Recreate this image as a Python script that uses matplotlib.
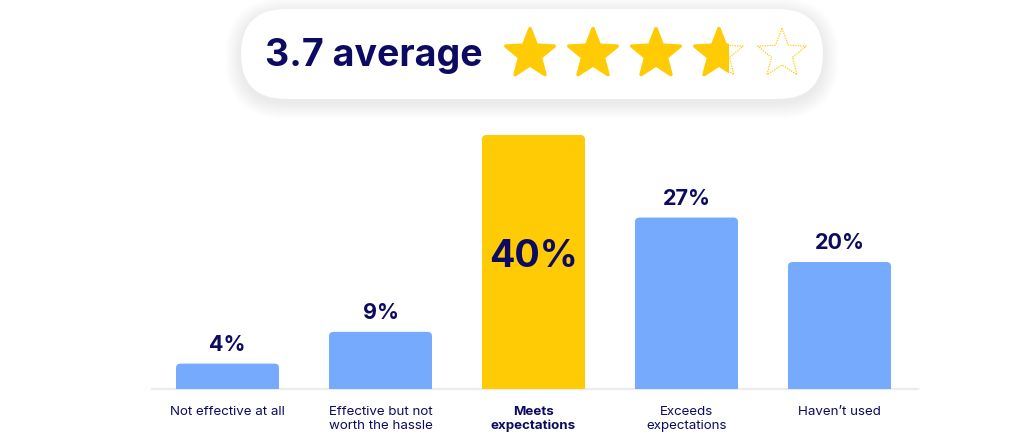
import numpy as np
import matplotlib
matplotlib.use("Agg")
import matplotlib.pyplot as plt
from matplotlib.patches import FancyBboxPatch, Polygon, Rectangle

# ---- data ----
categories = ["Not effective at all", "Effective but not\nworth the hassle",
              "Meets\nexpectations", "Exceeds\nexpectations", "Haven\u2019t used"]
values = [4, 9, 40, 27, 20]
highlight = 2
average_rating = 3.7
max_stars = 5

NAVY = "#0c0b61"
BLUE = "#75aafd"
YELLOW = "#ffcb05"
FONT = ["Inter", "DejaVu Sans"]

plt.rcParams["font.family"] = FONT

W, H = 1024, 448
fig = plt.figure(figsize=(W / 100, H / 100), dpi=100)
fig.patch.set_facecolor("white")

# ---- bar chart ----
px_per_pct = 6.35
base_px = 389          # baseline, px from top
step_px = 153
first_center_px = 227.5
left_px, right_px = 152, 918
top_px = 110

xmin = (left_px - first_center_px) / step_px
xmax = (right_px - first_center_px) / step_px
ymax = (base_px - top_px) / px_per_pct

ax = fig.add_axes([left_px / W, (H - base_px) / H,
                   (right_px - left_px) / W, (base_px - top_px) / H])
ax.set_xlim(xmin, xmax)
ax.set_ylim(0, ymax)
ax.axis("off")

bar_w = 103 / step_px
r_x = 4.5 / step_px
aspect = (1 / px_per_pct) / (1 / step_px)
for i, v in enumerate(values):
    color = YELLOW if i == highlight else BLUE
    patch = FancyBboxPatch((i - bar_w / 2, -2), bar_w, v + 2,
                           boxstyle=f"round,pad=0,rounding_size={r_x}",
                           mutation_aspect=aspect, facecolor=color,
                           edgecolor="none", clip_on=True)
    ax.add_patch(patch)
    if i == highlight:
        ax.text(i, v * 0.52, f"{v}%", ha="center", va="center",
                fontsize=27, fontweight="bold", color=NAVY)
    else:
        ax.text(i, v + 1.4, f"{v}%", ha="center", va="bottom",
                fontsize=15.5, fontweight="bold", color=NAVY)
    ax.text(i, -2.6, categories[i], ha="center", va="top",
            fontsize=9.6, color=NAVY, linespacing=1.25,
            fontweight="bold" if i == highlight else "normal",
            clip_on=False)

ax.axhline(0, color="#ececf0", lw=1.6, zorder=0, clip_on=False)

# ---- rating pill (pixel coordinates) ----
top = fig.add_axes([0, 0, 1, 1], zorder=-1)
top.set_xlim(0, W)
top.set_ylim(H, 0)
top.axis("off")

px0, py0, px1, py1 = 241, 9, 823, 99
rad = (py1 - py0) / 2
# soft drop shadow built from stacked translucent pills
for k in range(20, 0, -1):
    top.add_patch(FancyBboxPatch((px0 - k * 0.8, py0 - k * 0.8 + 4),
                                 (px1 - px0) + k * 1.6, (py1 - py0) + k * 1.6,
                                 boxstyle=f"round,pad=0,rounding_size={rad + k * 0.8}",
                                 facecolor="#1a1a40", alpha=0.0035,
                                 edgecolor="none"))
top.add_patch(FancyBboxPatch((px0, py0), px1 - px0, py1 - py0,
                             boxstyle=f"round,pad=0,rounding_size={rad}",
                             facecolor="white", edgecolor="none"))

top.text(265, 56, f"{average_rating} average", ha="left", va="center",
         fontsize=27, fontweight="bold", color=NAVY)


def star_points(cx, cy, r_out, r_in):
    pts = []
    for k in range(10):
        ang = np.pi / 2 + k * np.pi / 5
        r = r_out if k % 2 == 0 else r_in
        pts.append((cx + r * np.cos(ang), cy - r * np.sin(ang)))
    return np.array(pts)


star_r = 25.5
star_cy = 54
star_centers = [530 + 63 * k for k in range(max_stars)]
for k, cx in enumerate(star_centers):
    pts = star_points(cx, star_cy, star_r, star_r * 0.43)
    fill = min(max(average_rating - k, 0), 1)
    if fill < 1:
        top.add_patch(Polygon(pts, closed=True, facecolor="none",
                              edgecolor=YELLOW, lw=0.9, linestyle=(0, (1, 1)),
                              joinstyle="round"))
    if fill > 0:
        star = Polygon(pts, closed=True, facecolor=YELLOW, edgecolor=YELLOW,
                       lw=2.5, joinstyle="round")
        top.add_patch(star)
        if fill < 1:
            w = 2 * star_r * np.sin(2 * np.pi / 5)
            clip = Rectangle((cx - w / 2 - 3, star_cy - star_r - 3),
                             w * fill + 3, 2 * star_r + 6,
                             transform=top.transData)
            star.set_clip_path(clip)

fig.savefig("out.png", dpi=100, facecolor="white")
